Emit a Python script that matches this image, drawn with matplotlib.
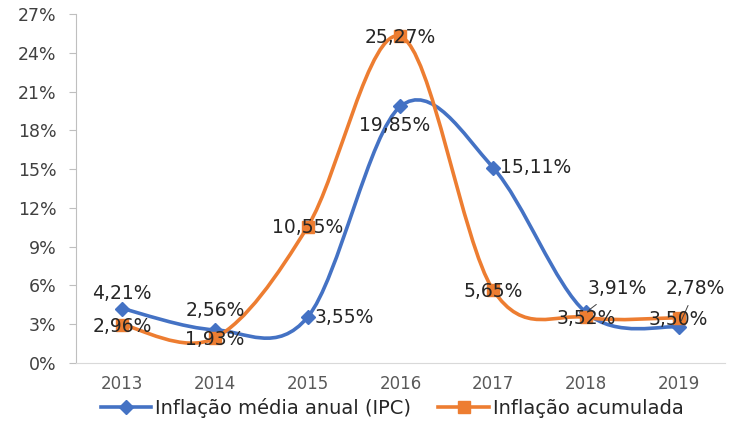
import matplotlib.pyplot as plt
from matplotlib.path import Path
from matplotlib.patches import PathPatch
from matplotlib.lines import Line2D
from matplotlib.ticker import FuncFormatter

# data
years = ["2013", "2014", "2015", "2016", "2017", "2018", "2019"]
ipc_media = [4.21, 2.56, 3.55, 19.85, 15.11, 3.91, 2.78]
acumulada = [2.96, 1.93, 10.55, 25.27, 5.65, 3.52, 3.50]

blue = "#4472C4"
orange = "#ED7D31"
txt = "#262626"
fs = 13.5


def smooth_path(xs, ys):
    # excel-style smoothed line: catmull-rom turned into cubic bezier
    pts = list(zip(xs, ys))
    verts = [pts[0]]
    codes = [Path.MOVETO]
    n = len(pts)
    for i in range(n - 1):
        p0 = pts[i - 1] if i > 0 else pts[i]
        p1 = pts[i]
        p2 = pts[i + 1]
        p3 = pts[i + 2] if i + 2 < n else pts[i + 1]
        c1 = (p1[0] + (p2[0] - p0[0]) / 6, p1[1] + (p2[1] - p0[1]) / 6)
        c2 = (p2[0] - (p3[0] - p1[0]) / 6, p2[1] - (p3[1] - p1[1]) / 6)
        verts += [c1, c2, p2]
        codes += [Path.CURVE4] * 3
    return Path(verts, codes)


def fmt(v):
    return f"{v:.2f}".replace(".", ",") + "%"


fig = plt.figure(figsize=(7.3, 4.24), dpi=100)
ax = fig.add_axes([0.104, 0.144, 0.889, 0.823])

x = list(range(len(years)))
for vals, col, mk, ms in [(ipc_media, blue, "D", 7), (acumulada, orange, "s", 8)]:
    ax.add_patch(PathPatch(smooth_path(x, vals), facecolor="none", edgecolor=col,
                           lw=2.6, capstyle="round", joinstyle="round"))
    ax.plot(x, vals, linestyle="none", marker=mk, ms=ms, color=col)

ax.set_xlim(-0.5, len(years) - 0.5)
ax.set_ylim(0, 27)
ax.set_yticks(range(0, 28, 3))
ax.yaxis.set_major_formatter(FuncFormatter(lambda v, p: f"{v:.0f}%"))
ax.set_xticks(x)
ax.set_xticklabels(years)

for s in ["top", "right"]:
    ax.spines[s].set_visible(False)
ax.spines["left"].set_color("#BFBFBF")
ax.spines["bottom"].set_color("#D9D9D9")
ax.tick_params(axis="y", length=5, color="#BFBFBF", labelsize=12.5, labelcolor="#404040", pad=9)
ax.tick_params(axis="x", length=0, labelsize=12, labelcolor="#595959", pad=9)

# data labels (offsets in points)
ipc_off = [(0, 11, "center"), (0, 14, "center"), (5, 0, "left"), (-4, -14, "center"),
           (5, 0, "left")]
for i, (dx, dy, ha) in enumerate(ipc_off):
    v = ipc_media[i]
    ax.annotate(fmt(v), (i, v), xytext=(dx, dy), textcoords="offset points",
                ha=ha, va="center", fontsize=fs, color=txt)

# leader lines for the last two blue labels
ax.annotate(fmt(ipc_media[5]), (5, ipc_media[5]), xytext=(1, 17), textcoords="offset points",
            ha="left", va="center", fontsize=fs, color=txt,
            arrowprops=dict(arrowstyle="-", color="#404040", lw=0.7, shrinkA=4, shrinkB=3))
ax.annotate(fmt(ipc_media[6]), (6, ipc_media[6]), xytext=(-9, 28), textcoords="offset points",
            ha="left", va="center", fontsize=fs, color=txt,
            arrowprops=dict(arrowstyle="-", color="#404040", lw=0.7, shrinkA=4, shrinkB=5))

for i, v in enumerate(acumulada):
    ax.annotate(fmt(v), (i, v), xytext=(0, -1), textcoords="offset points",
                ha="center", va="center", fontsize=fs, color=txt)

handles = [Line2D([], [], color=blue, lw=2.6, marker="D", ms=7),
           Line2D([], [], color=orange, lw=2.6, marker="s", ms=8)]
fig.legend(handles, ["Inflação média anual (IPC)", "Inflação acumulada"],
           loc="center", bbox_to_anchor=(0.537, 0.038), ncol=2, frameon=False,
           fontsize=14, handlelength=2.6, columnspacing=1.4, handletextpad=0.2,
           labelcolor=txt)

fig.savefig("out.png", dpi=100)
